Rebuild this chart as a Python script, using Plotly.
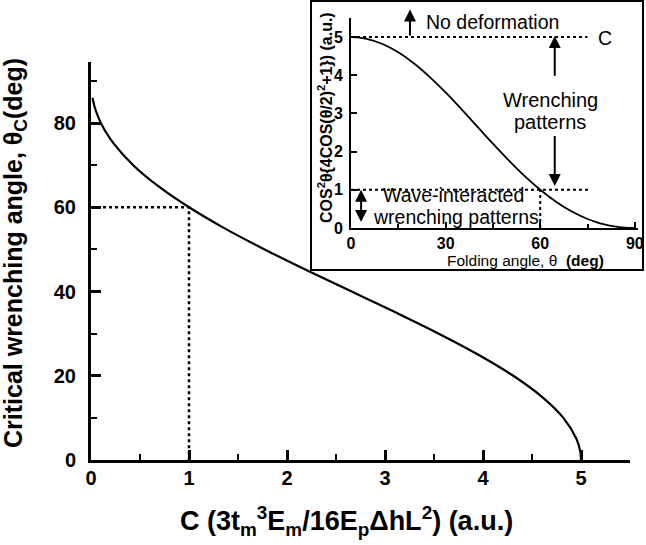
import plotly.graph_objects as go

# Folding angle (deg) and C = cos^2θ(4cos^2(θ/2)+1)
theta = [0, 2, 5, 10, 15, 20, 25, 30, 35, 40, 45, 50, 55, 60, 65, 70, 75, 78, 80, 82, 84, 86, 88, 90]
c_val = [5.0, 4.993, 4.954, 4.820, 4.602, 4.309, 3.953, 3.549, 3.112, 2.660, 2.207, 1.771,
         1.364, 1.0, 0.687, 0.431, 0.236, 0.148, 0.101, 0.064, 0.035, 0.015, 0.004, 0.0]

# main curve: critical wrenching angle vs C (θ from 0 to 86)
main_theta = theta[:-2]
main_c = c_val[:-2]

# reference dotted guide (C = 1 -> θc = 60)
guide_c = [0, 1, 1]
guide_theta = [60, 60, 0]

# inset guides
inset_top_x = [0, 75]
inset_top_y = [5, 5]
inset_low_x = [0, 76]
inset_low_y = [1, 1]
inset_vert_x = [60, 60]
inset_vert_y = [0, 1]

FONT = "Liberation Sans, Arial, sans-serif"
L, R, T, B = 91, 3, 2, 85
W, H = 646, 545
pw, ph = W - L - R, H - T - B

def px(x):
    return (x - L) / pw

def py(y):
    return (H - B - y) / ph

fig = go.Figure()

# white inset box (behind everything)
fig.add_shape(type="rect", xref="paper", yref="paper",
              x0=px(311), x1=px(643), y0=py(270), y1=py(1),
              line=dict(color="black", width=2), fillcolor="white", layer="below")

fig.add_trace(go.Scatter(x=main_c, y=main_theta, mode="lines", line=dict(color="black", width=2.2, shape="spline"),
                         xaxis="x", yaxis="y", showlegend=False))
fig.add_trace(go.Scatter(x=guide_c, y=guide_theta, mode="lines", line=dict(color="black", width=2.5, dash="dot"),
                         xaxis="x", yaxis="y", showlegend=False))

fig.add_trace(go.Scatter(x=theta, y=c_val, mode="lines", line=dict(color="black", width=1.8, shape="spline"),
                         xaxis="x2", yaxis="y2", showlegend=False))
for xs, ys in [(inset_top_x, inset_top_y), (inset_low_x, inset_low_y), (inset_vert_x, inset_vert_y)]:
    fig.add_trace(go.Scatter(x=xs, y=ys, mode="lines", line=dict(color="black", width=2, dash="dot"),
                             xaxis="x2", yaxis="y2", showlegend=False))

tickfont_main = dict(family=FONT, size=20, color="black")
fig.update_layout(
    width=W, height=H, margin=dict(l=L, r=R, t=T, b=B, autoexpand=False),
    paper_bgcolor="white", plot_bgcolor="rgba(0,0,0,0)",
    font=dict(family=FONT, color="black"),
    xaxis=dict(domain=[0, px(630)], range=[0, 5.5], showline=True, linewidth=3, linecolor="black",
               showgrid=False, zeroline=False, ticks="inside", ticklen=10, tickwidth=2.5, tickcolor="black",
               dtick=1, tick0=0, tickfont=tickfont_main, ticklabelstandoff=-2, automargin=False,
               minor=dict(ticks="inside", ticklen=6, tickwidth=2, dtick=0.5, tick0=0, tickcolor="black"),
               tickprefix="<b>", ticksuffix="</b>", anchor="y"),
    yaxis=dict(domain=[0, py(62)], range=[0, 94.5], showline=True, linewidth=3, linecolor="black",
               showgrid=False, zeroline=False, ticks="inside", ticklen=10, tickwidth=2.5, tickcolor="black",
               dtick=20, tick0=0, tickfont=tickfont_main, ticklabelstandoff=8, automargin=False,
               minor=dict(ticks="inside", ticklen=6, tickwidth=2, dtick=10, tick0=0, tickcolor="black"),
               tickprefix="<b>", ticksuffix="</b>", anchor="x"),
    xaxis2=dict(domain=[px(351), px(638)], range=[0, 91], anchor="y2", showline=True, linewidth=2,
                linecolor="black", showgrid=False, zeroline=False, ticks="inside", ticklen=6, tickwidth=1.5,
                tickcolor="black", dtick=30, tick0=0, tickfont=dict(family=FONT, size=16),
                tickprefix="<b>", ticksuffix="</b>", automargin=False, ticklabeloverflow="allow",
                minor=dict(ticks="inside", ticklen=4, tickwidth=1.5, dtick=15, tick0=0, tickcolor="black")),
    yaxis2=dict(domain=[py(228), py(18)], range=[0, 5.5], anchor="x2", showline=True, linewidth=2,
                linecolor="black", showgrid=False, zeroline=False, ticks="inside", ticklen=6, tickwidth=1.5,
                tickcolor="black", dtick=1, tick0=0, tickfont=dict(family=FONT, size=16),
                tickprefix="<b>", ticksuffix="</b>", automargin=False, ticklabelstandoff=3),
)

def paper_text(x, y, text, size, xanchor="center", angle=0):
    fig.add_annotation(x=px(x), y=py(y), xref="paper", yref="paper", text=text, showarrow=False,
                       xanchor=xanchor, yanchor="middle", textangle=angle,
                       font=dict(family=FONT, size=size, color="black"))

# main axis titles
paper_text(15, 253, "<b>Critical wrenching angle, θ<sub>C</sub>(deg)</b>", 25, angle=-90)
paper_text(346, 521, "<b>C (3t<sub>m</sub><sup>3</sup>E<sub>m</sub>/16E<sub>p</sub>ΔhL<sup>2</sup>) (a.u.)</b>", 27)

# inset axis titles
paper_text(525, 260, "Folding angle, θ  <b>(deg)</b>", 15.5)
paper_text(325, 118, "<b>COS<sup>2</sup>θ{4COS(θ/2)<sup>2</sup>+1}) (a.u.)</b>", 16, angle=-90)

# inset labels
paper_text(424, 22, "No deformation", 19.5, xanchor="left")
paper_text(596, 38, "C", 19.5, xanchor="left")
paper_text(550, 100, "Wrenching", 20)
paper_text(550, 122, "patterns", 20)
paper_text(381, 195, "Wave-interacted", 19.5, xanchor="left")
paper_text(371, 217, "wrenching patterns", 19.5, xanchor="left")

arrows = [
    # (x, y head, y tail, sides)
    (18.7, 5.72, 5.0, "end"),
    (64.6, 5.03, 3.95, "end"),
    (64.6, 1.1, 2.45, "end"),
    (3.2, 1.0, 0.12, "end+start"),
]
for xa, yh, yt, side in arrows:
    fig.add_annotation(x=xa, y=yh, ax=xa, ay=yt, xref="x2", yref="y2", axref="x2", ayref="y2",
                       showarrow=True, arrowhead=2, arrowsize=1.2, arrowwidth=2, arrowcolor="black",
                       arrowside=side, text="", standoff=0, startstandoff=0)

fig.write_html("out.html", config={"displayModeBar": False},
               post_script="document.body.style.margin='0';document.body.style.overflow='hidden';")
